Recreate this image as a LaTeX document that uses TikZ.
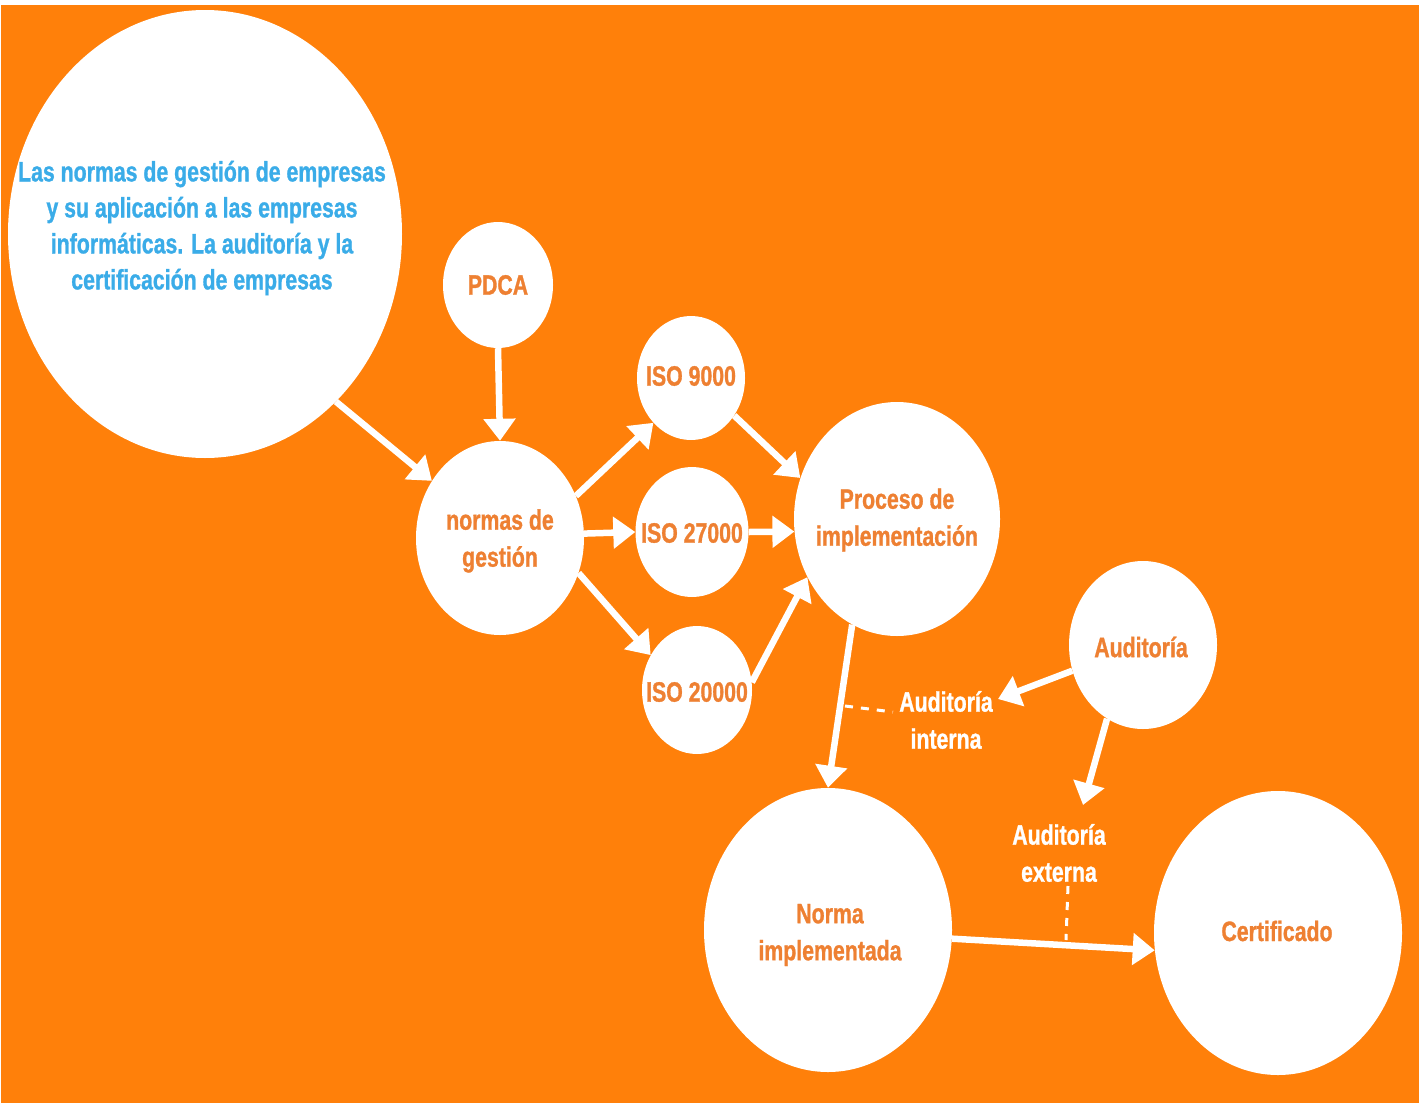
\documentclass[tikz,border=0pt]{standalone}
\usepackage{fontspec}
\newfontfamily\cond{Liberation Sans}[FakeStretch=0.76,FakeBold=1]
\usetikzlibrary{shapes.geometric,arrows.meta}
\definecolor{bg}{RGB}{255,128,10}
\definecolor{txo}{RGB}{238,128,50}
\definecolor{txb}{RGB}{58,172,232}
\begin{document}
\begin{tikzpicture}[x=1pt,y=-1pt,
  bub/.style={ellipse, fill=white, draw=none, inner sep=0pt},
  lbl/.style={font=\cond\bfseries\fontsize{28}{37}\selectfont, text=txo, align=center, inner sep=0pt},
  wlbl/.style={lbl, text=white},
  blbl/.style={lbl, text=txb, font=\cond\bfseries\fontsize{28}{36}\selectfont},
  arr/.style={white, line width=6.5pt, -{Triangle[width=31pt,length=22pt]}},
  dsh/.style={white, line width=3pt, dash pattern=on 8pt off 8pt}]
\useasboundingbox (0,0) rectangle (1419,1103);
\fill[white] (0,0) rectangle (1419,1103);
\fill[bg] (1,5) rectangle (1419,1103);
% bubbles
\node[bub, minimum width=394pt, minimum height=448pt] (big) at (205,234) {};
\node[bub, minimum width=110pt, minimum height=126pt] (pdca) at (498,285) {};
\node[bub, minimum width=168pt, minimum height=194pt] (normas) at (500,538) {};
\node[bub, minimum width=108pt, minimum height=124pt] (iso9) at (691,378) {};
\node[bub, minimum width=113pt, minimum height=130pt] (iso27) at (692,532) {};
\node[bub, minimum width=110pt, minimum height=128pt] (iso20) at (697,690) {};
\node[bub, minimum width=206pt, minimum height=234pt] (proc) at (897,519) {};
\node[bub, minimum width=148pt, minimum height=168pt] (aud) at (1143,645) {};
\node[bub, minimum width=248pt, minimum height=284pt] (norma) at (828,930) {};
\node[bub, minimum width=248pt, minimum height=284pt] (cert) at (1278,933) {};
% labels
\node[blbl] (tbig) at (202,228) {Las normas de gestión de empresas\\y su aplicación a las empresas\\informáticas. La auditoría y la\\certificación de empresas};
\node[lbl] (tpdca) at (498,285) {PDCA};
\node[lbl] (tnormas) at (500,541) {normas de\\gestión};
\node[lbl] (tiso9) at (691,376) {ISO 9000};
\node[lbl] (tiso27) at (692,533) {ISO 27000};
\node[lbl] (tiso20) at (697,692) {ISO 20000};
\node[lbl] (tproc) at (897,520) {Proceso de\\implementación};
\node[lbl] (taud) at (1141,647) {Auditoría};
\node[wlbl] (tai) at (946,720) {Auditoría\\interna};
\node[wlbl] (tae) at (1059,853) {Auditoría\\externa};
\node[lbl] (tnorma) at (830,935) {Norma\\implementada};
\node[lbl] (tcert) at (1277,931) {Certificado};
% free ends
\coordinate (aitip) at (998,699);
\coordinate (aetip) at (1083,805);
\coordinate (d1a) at (845,706);
\coordinate (d1b) at (893,712);
\coordinate (d2a) at (1068,886);
\coordinate (d2b) at (1066,940);
% arrows
\draw[arr] (big.-52) -- (normas.140);
\draw[arr] (pdca.south) -- (normas.north);
\draw[arr] (normas.29) -- (iso9.-130);
\draw[arr] (normas.3) -- (iso27.west);
\draw[arr] (normas.-24) -- (iso20.143);
\draw[arr] (iso9.-41) -- (proc.157);
\draw[arr] (iso27.east) -- (proc.-173);
\draw[arr] (iso20.8) -- (proc.-147);
\draw[arr] (proc.-113) -- (norma.north);
\draw[arr] (aud.-160) -- (aitip);
\draw[arr] (aud.-116) -- (aetip);
\draw[arr] (norma.-4) -- (cert.-172);
% dashed
\draw[dsh] (d1a) -- (d1b);
\draw[dsh] (d2a) -- (d2b);
\end{tikzpicture}
\end{document}
